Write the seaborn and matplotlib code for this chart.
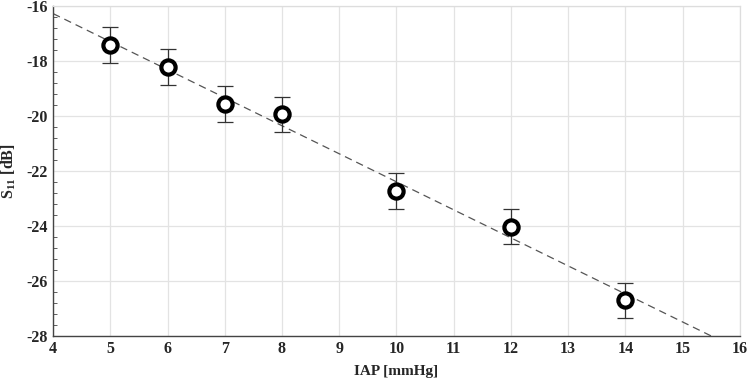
import matplotlib
matplotlib.use("Agg")
import matplotlib.pyplot as plt
import seaborn as sns
import pandas as pd
from matplotlib.ticker import MultipleLocator

# data
iap = [5, 6, 7, 8, 10, 12, 14]
s11 = [-17.42, -18.22, -19.56, -19.94, -22.72, -24.03, -26.70]
s11_err = [0.65, 0.66, 0.65, 0.65, 0.65, 0.64, 0.64]

df = pd.DataFrame({"IAP": iap, "S11": s11, "err": s11_err})

sns.set_style("whitegrid")
plt.rcParams['font.family'] = ['Liberation Serif', 'DejaVu Serif']
plt.rcParams['axes.unicode_minus'] = False
plt.rcParams['mathtext.fontset'] = 'custom'
plt.rcParams['mathtext.rm'] = 'Liberation Serif'
plt.rcParams['mathtext.bf'] = 'Liberation Serif:bold'

fig = plt.figure(figsize=(7.48, 3.80), dpi=100)
ax = fig.add_axes([0.071, 0.116, 0.918, 0.868])
ax.set_xlim(4, 16)
ax.set_ylim(-28, -16)

# linear fit, dashed
sns.regplot(x="IAP", y="S11", data=df, ci=None, truncate=False, scatter=False,
            line_kws={"color": "#555555", "ls": (0, (6, 4)), "lw": 0.9}, ax=ax)

ax.errorbar(df["IAP"], df["S11"], yerr=df["err"], fmt="none", ecolor="#333333",
            elinewidth=0.9, capsize=6, capthick=0.9, zorder=3)
sns.scatterplot(x="IAP", y="S11", data=df, marker="o", s=105, facecolor="white",
                edgecolor="black", linewidth=3, zorder=4, ax=ax)

ax.set_xticks(range(4, 17))
ax.set_yticks(range(-28, -15, 2))
ax.yaxis.set_minor_locator(MultipleLocator(0.4))
ax.grid(True, which="major", color="#e3e3e3", lw=0.9)
ax.tick_params(axis="both", which="both", direction="in", labelsize=11.5)
ax.tick_params(axis="both", which="major", length=5, width=0.8, color="#444444")
ax.tick_params(axis="y", which="minor", length=3, width=0.6, left=True, color="#444444")
ax.tick_params(axis="x", which="minor", bottom=False)
for lab in ax.get_xticklabels() + ax.get_yticklabels():
    lab.set_fontweight("bold")

for side in ["top", "right"]:
    ax.spines[side].set_color("#dddddd")
    ax.spines[side].set_linewidth(0.9)
for side in ["bottom", "left"]:
    ax.spines[side].set_color("#444444")
    ax.spines[side].set_linewidth(1.0)

ax.set_xlabel("IAP [mmHg]", fontsize=11, fontweight="bold", labelpad=6)
ax.set_ylabel(r"S$_{\mathbf{11}}$ [dB]", fontsize=11.5, fontweight="bold", labelpad=6)

fig.savefig("out.png", dpi=100)
